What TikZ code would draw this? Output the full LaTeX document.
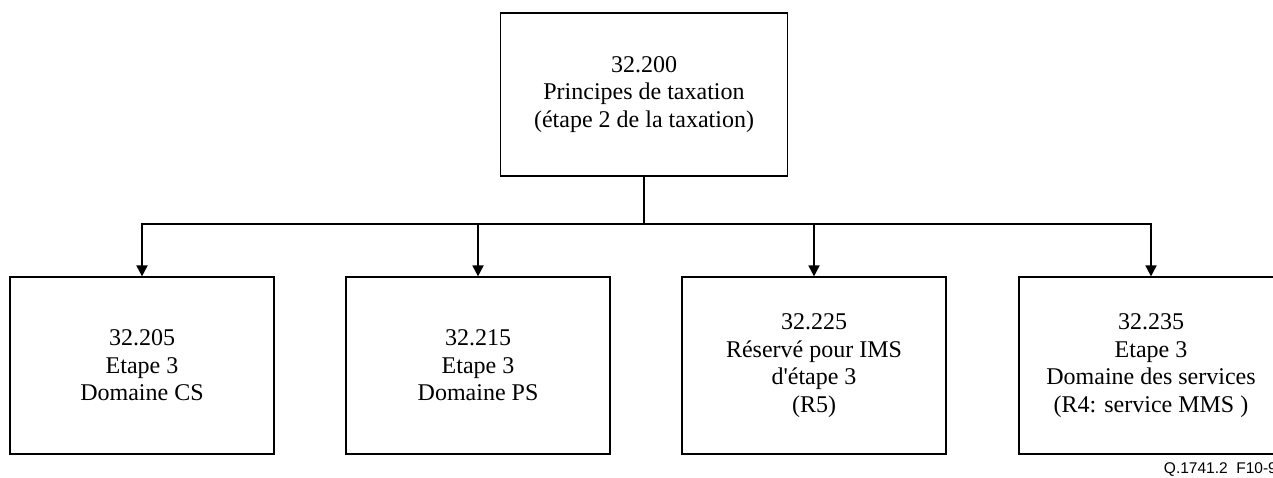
\documentclass[tikz,border=0pt]{standalone}
\usepackage{fontspec}
\setmainfont{Liberation Serif}
\newfontfamily\notefont{Liberation Sans}
\usetikzlibrary{arrows.meta}

\tikzset{
  specbox/.style={draw, line width=1.2pt, minimum width=264pt, minimum height=177pt,
    align=center, inner sep=0pt, font=\fontsize{24}{27.6}\selectfont},
  conn/.style={line width=1.8pt, -{Triangle[length=11pt,width=11pt]}},
}

\begin{document}
\begin{tikzpicture}[x=1pt,y=-1pt]
\useasboundingbox (0,0) rectangle (1273,477);
% top level
\node[specbox, minimum width=287pt, minimum height=163pt] (p200) at (644,94.5)
  {32.200\\Principes de taxation\\(étape 2 de la taxation)};
% step 3 specifications
\node[specbox] (c205) at (142,365.5) {32.205\\Etape 3\\Domaine CS};
\node[specbox] (c215) at (478,365.5) {32.215\\Etape 3\\Domaine PS};
\node[specbox] (c225) at (814,365.5) {32.225\\Réservé pour IMS\\d\textquotesingle étape 3\\(R5)};
\node[specbox] (c235) at (1151,365.5) {32.235\\Etape 3\\Domaine des services\\(R4: service MMS )};
% connectors
\coordinate (bus) at (644,224);
\draw[line width=1.8pt] (p200.south) -- (bus);
\draw[conn] (bus) -| (c205.north);
\draw[conn] (bus) -| (c215.north);
\draw[conn] (bus) -| (c225.north);
\draw[conn] (bus) -| (c235.north);
\node[anchor=base east, inner sep=0pt, font=\notefont\fontsize{15.5}{18}\selectfont] (note)
  at (1277,473) {Q.1741.2\ \ F10-9};
\end{tikzpicture}
\end{document}
